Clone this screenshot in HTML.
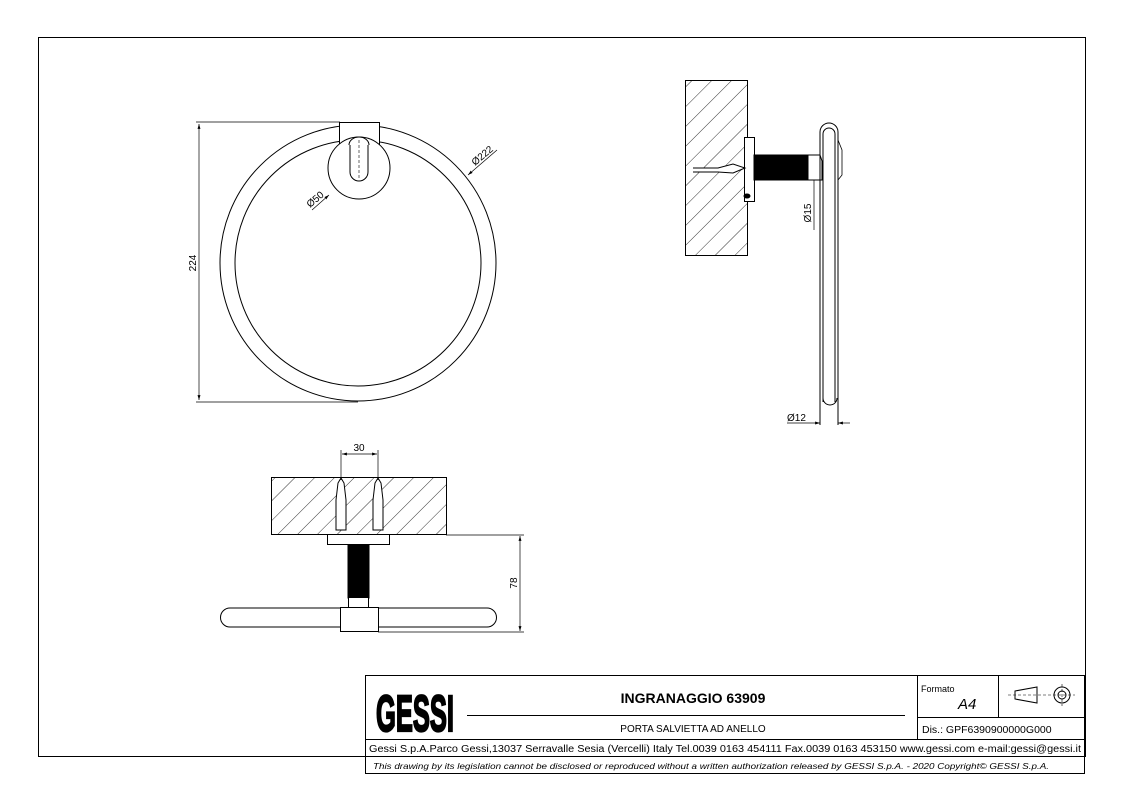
<!DOCTYPE html>
<html><head><meta charset="utf-8"><style>
body{margin:0;background:#fff}
svg{display:block;font-family:"Liberation Sans",sans-serif}
</style></head><body>
<svg width="1123" height="794" viewBox="0 0 1123 794" xmlns="http://www.w3.org/2000/svg">
<defs>
<pattern id="h" width="14" height="14" patternUnits="userSpaceOnUse" patternTransform="rotate(45)">
<line x1="0" y1="0" x2="0" y2="14" stroke="#000" stroke-width="0.8"/>
</pattern>
<marker id="a" viewBox="0 0 10 10" refX="10" refY="5" markerWidth="7" markerHeight="7" orient="auto-start-reverse"><path d="M0 2 L10 5 L0 8 Z" fill="#000"/></marker>
</defs>
<g fill="none" stroke="#000" stroke-width="1">
<rect x="38.5" y="37.5" width="1047" height="719"/>
<circle cx="358" cy="263" r="138"/>
<circle cx="358" cy="263" r="123"/>
<rect x="339.5" y="122.5" width="40" height="23" fill="#fff"/>
<circle cx="359" cy="168" r="31" fill="#fff"/>
<path d="M350 145 V172 a9 9 0 0 0 18 0 V145"/>
<path d="M349 145 a10 8 0 0 1 20 0" />
<line x1="359" y1="140" x2="359" y2="178" stroke-dasharray="3,2" stroke-width="0.6"/>
<line x1="196" y1="122" x2="340" y2="122" stroke-width="0.7"/>
<line x1="196" y1="402" x2="358" y2="402" stroke-width="0.7"/>
<line x1="199" y1="124" x2="199" y2="400" stroke-width="0.7" marker-start="url(#a)" marker-end="url(#a)"/>
<line x1="497" y1="150" x2="468" y2="175" stroke-width="0.7" marker-end="url(#a)"/>
<line x1="312" y1="210" x2="329" y2="195" stroke-width="0.7" marker-end="url(#a)"/>
<rect x="685.5" y="80.5" width="62" height="175" fill="url(#h)"/>
<rect x="744.5" y="137.5" width="10" height="64" fill="#fff"/>
<rect x="754" y="155" width="54" height="25" fill="#000"/>
<path d="M808 155 H820 L822 161 V180 H808 Z" fill="#fff"/>
<path d="M693 168 H718 L733 164 L745 168 L733 173 L718 172 H693" fill="#fff"/>
<ellipse cx="747" cy="196" rx="3" ry="2" fill="#000"/>
<path d="M820 425 V132 a9 9 0 0 1 18 0 V425"/>
<path d="M823 402 V134 a6 6 0 0 1 12 0 V402"/>
<path d="M823 398 a7 7 0 0 0 14 0"/>
<path d="M838 140 L842 150 V175 L838 180" stroke-width="0.8"/>
<line x1="814" y1="180" x2="814" y2="230" stroke-width="0.7"/>
<line x1="787" y1="423" x2="820" y2="423" stroke-width="0.7" marker-end="url(#a)"/>
<line x1="850" y1="423" x2="838" y2="423" stroke-width="0.7" marker-end="url(#a)"/>
<rect x="271.5" y="477.5" width="175" height="57" fill="url(#h)"/>
<rect x="327.5" y="534.5" width="62" height="10" fill="#fff"/>
<rect x="348" y="545" width="21" height="53" fill="#000"/>
<rect x="348.5" y="597.5" width="20" height="10" fill="#fff"/>
<path d="M230 608 H487 a9.5 9.5 0 0 1 0 19 H230 a9.5 9.5 0 0 1 0 -19 Z" fill="#fff"/>
<rect x="340.5" y="607.5" width="38" height="24" fill="#fff"/>
<path d="M336 530 V500 L338 483 L341 478 L344 483 L346 500 V530 Z M373 530 V500 L375 483 L378 478 L381 483 L383 500 V530 Z" fill="#fff"/>
<line x1="341" y1="450" x2="341" y2="480" stroke-width="0.7"/>
<line x1="378" y1="450" x2="378" y2="480" stroke-width="0.7"/>
<line x1="342" y1="454" x2="377" y2="454" stroke-width="0.7" marker-start="url(#a)" marker-end="url(#a)"/>
<line x1="446" y1="535" x2="524" y2="535" stroke-width="0.7"/>
<line x1="378" y1="632" x2="524" y2="632" stroke-width="0.7"/>
<line x1="520" y1="536" x2="520" y2="631" stroke-width="0.7" marker-start="url(#a)" marker-end="url(#a)"/>
<rect x="365.5" y="675.5" width="719" height="98"/>
<line x1="365" y1="739.5" x2="1085" y2="739.5"/>
<line x1="365" y1="756.5" x2="1085" y2="756.5"/>
<line x1="917.5" y1="675" x2="917.5" y2="739"/>
<line x1="998.5" y1="675" x2="998.5" y2="717"/>
<line x1="917" y1="717.5" x2="1085" y2="717.5"/>
<line x1="467" y1="715.5" x2="905" y2="715.5"/>
<path d="M1015 691 L1037 687 V703 L1015 699 Z"/>
<circle cx="1062" cy="695" r="8"/><circle cx="1062" cy="695" r="4"/>
<line x1="1008" y1="695" x2="1075" y2="695" stroke-dasharray="3,2" stroke-width="0.6"/>
<line x1="1062" y1="684" x2="1062" y2="706" stroke-dasharray="3,2" stroke-width="0.6"/>
</g>
<g fill="#000">
<text transform="translate(376 731) scale(1 1.5)" font-size="34" font-weight="bold" textLength="78" lengthAdjust="spacingAndGlyphs" stroke="#000" stroke-width="1.5">GESSI</text>
<text x="693" y="703" font-size="14" font-weight="bold" text-anchor="middle">INGRANAGGIO 63909</text>
<text x="693" y="732" font-size="10" text-anchor="middle">PORTA SALVIETTA AD ANELLO</text>
<text x="921" y="692" font-size="9">Formato</text>
<text x="958" y="709" font-size="15" font-style="italic">A4</text>
<text x="922" y="733" font-size="10.5">Dis.: GPF6390900000G000</text>
<text x="369" y="752" font-size="10" textLength="712" lengthAdjust="spacingAndGlyphs">Gessi S.p.A.Parco Gessi,13037 Serravalle Sesia (Vercelli) Italy Tel.0039 0163 454111 Fax.0039 0163 453150 www.gessi.com e-mail:gessi@gessi.it</text>
<text x="373" y="769" font-size="8.5" font-style="italic" textLength="676" lengthAdjust="spacingAndGlyphs">This drawing by its legislation cannot be disclosed or reproduced without a written authorization released by GESSI S.p.A. - 2020 Copyright© GESSI S.p.A.</text>
<text x="359" y="451" font-size="10" text-anchor="middle">30</text>
<text transform="translate(196 263) rotate(-90)" font-size="10" text-anchor="middle">224</text>
<text transform="translate(517 583) rotate(-90)" font-size="10" text-anchor="middle">78</text>
<text transform="translate(811 213) rotate(-90)" font-size="10" text-anchor="middle">Ø15</text>
<text x="787" y="421" font-size="10">Ø12</text>
<text transform="translate(475 166) rotate(-40)" font-size="10">Ø222</text>
<text transform="translate(310 208) rotate(-40)" font-size="10">Ø50</text>
</g>
</svg>
</body></html>
